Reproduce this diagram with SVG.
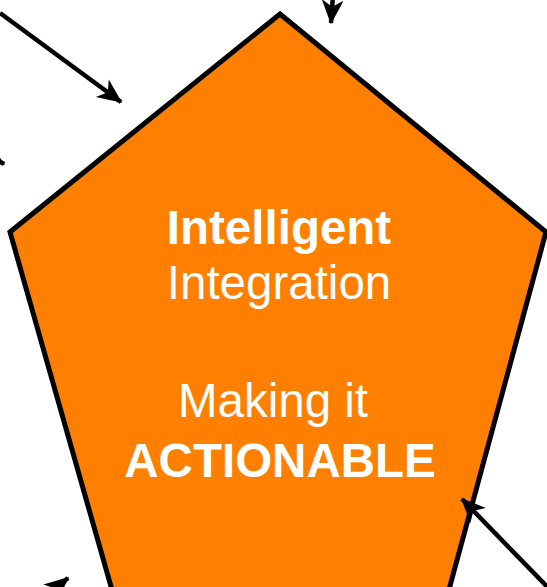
<svg xmlns="http://www.w3.org/2000/svg" width="547" height="587" viewBox="0 0 547 587">
<style>
.shape{fill:#FF7F00;stroke:#000;stroke-width:5;stroke-linejoin:miter}
.conn{stroke:#000;stroke-width:4.5;fill:none}
.t{fill:#fff;font-family:"Liberation Sans",Arial,sans-serif;font-size:47.5px;text-anchor:middle}
.b{font-weight:bold}
</style>
<defs>
<marker id="ah" markerUnits="userSpaceOnUse" markerWidth="30" markerHeight="30" viewBox="-20 -10 22 20" refX="0" refY="0" orient="auto">
<path d="M1,0 L-17,-8 L-12,0 L-17,8 Z" fill="#000"/>
</marker>
</defs>
<g id="pentagon">
<polygon class="shape" points="280,14 546,232 447,597 114,597 10,232"/>
<text class="t b" x="279" y="244">Intelligent</text>
<text class="t" x="279" y="299">Integration</text>
<text class="t" x="178" y="417" style="text-anchor:start">Making it</text>
<text class="t b" x="280" y="477">ACTIONABLE</text>
</g>
<g id="connectors">
<line class="conn" x1="0" y1="13" x2="121" y2="102" marker-end="url(#ah)"/>
<line class="conn" x1="333" y1="-5" x2="331" y2="23" marker-end="url(#ah)"/>
<line class="conn" x1="-30" y1="145" x2="4" y2="164" marker-end="url(#ah)"/>
<line class="conn" x1="30" y1="610" x2="68" y2="578" marker-end="url(#ah)"/>
<line class="conn" x1="560" y1="600" x2="462" y2="499" marker-end="url(#ah)"/>
</g>
</svg>
